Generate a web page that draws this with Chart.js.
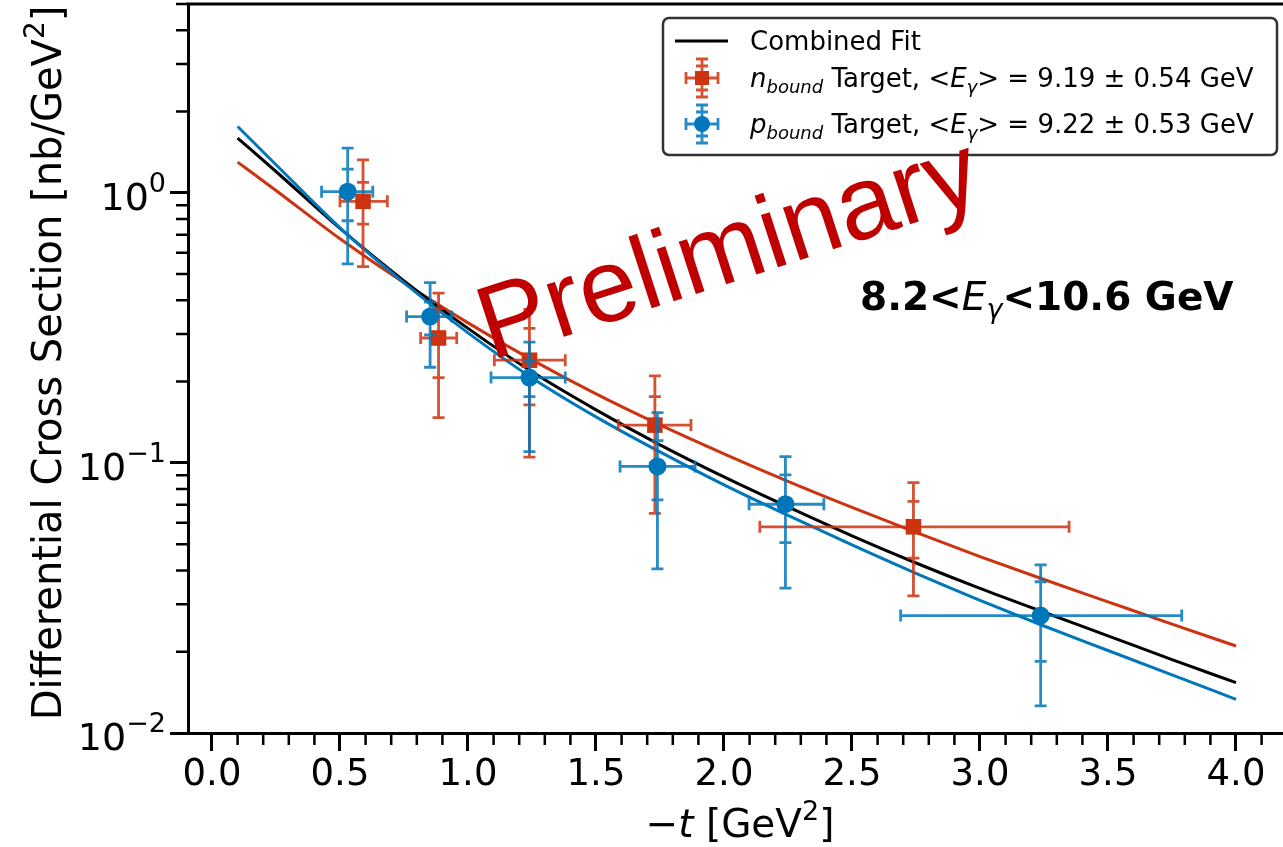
<!DOCTYPE html>
<html>
<head>
<meta charset="utf-8">
<script src="https://cdn.jsdelivr.net/npm/chart.js@4.4.1/dist/chart.umd.min.js"></script>
<style>
    html, body { margin: 0; padding: 0; background: #fff; }
    #wrap { width: 1283px; height: 847px; }
</style>
</head>
<body>
<div id="wrap"><canvas id="chart" width="1283" height="847"></canvas></div>
<script>
// fit curves
const fitT = [0.1, 0.25, 0.5, 0.75, 1.0, 1.25, 1.5, 1.75, 2.0, 2.25, 2.5, 2.75, 3.0, 3.25, 3.5, 3.75, 4.0];
const fitCombined = [1.595, 1.199, 0.738, 0.4721, 0.3148, 0.2174, 0.1572, 0.1166, 0.0887, 0.0687, 0.0537, 0.0426, 0.0343, 0.0280, 0.0229, 0.0187, 0.01536];
const fitNeutron = [1.299, 1.020, 0.6755, 0.4642, 0.3300, 0.2406, 0.1801, 0.1382, 0.1080, 0.0854, 0.0684, 0.0553, 0.0450, 0.0370, 0.0306, 0.0253, 0.0210];
const fitProton = [1.760, 1.270, 0.7420, 0.4642, 0.3030, 0.2064, 0.1481, 0.1098, 0.0829, 0.0639, 0.0497, 0.0390, 0.0310, 0.0249, 0.0202, 0.0164, 0.01333];

// n_bound target points
const nT = [0.59, 0.885, 1.24, 1.73, 2.74];
const nTLo = [0.50, 0.815, 1.103, 1.587, 2.14];
const nTHi = [0.685, 0.956, 1.38, 1.871, 3.348];
const nY = [0.93, 0.29, 0.24, 0.138, 0.058];
const nStatLo = [0.766, 0.207, 0.164, 0.100, 0.0444];
const nStatHi = [1.092, 0.373, 0.315, 0.176, 0.072];
const nTotLo = [0.533, 0.147, 0.105, 0.065, 0.0322];
const nTotHi = [1.325, 0.425, 0.37, 0.21, 0.0845];

// p_bound target points
const pT = [0.53, 0.852, 1.24, 1.74, 2.24, 3.237];
const pTLo = [0.428, 0.76, 1.09, 1.594, 2.098, 2.69];
const pTHi = [0.628, 0.936, 1.38, 1.887, 2.39, 3.788];
const pY = [1.01, 0.348, 0.207, 0.097, 0.0703, 0.0272];
const pStatLo = [0.788, 0.298, 0.176, 0.073, 0.0507, 0.0184];
const pStatHi = [1.224, 0.394, 0.238, 0.121, 0.0903, 0.0363];
const pTotLo = [0.546, 0.226, 0.11, 0.0405, 0.0344, 0.0126];
const pTotHi = [1.464, 0.465, 0.28, 0.1535, 0.1055, 0.0419];

const xTicks = [0, 0.5, 1.0, 1.5, 2.0, 2.5, 3.0, 3.5, 4.0];
const yTicks = [0.01, 0.1, 1];
const yTickExp = ['\u22122', '\u22121', '0'];

const RED = '#CC3311';
const BLUE = '#0077BB';
const FONT = '"DejaVu Sans"';

const errors = {
    n: { t: nT, lo: nTLo, hi: nTHi, y: nY, sLo: nStatLo, sHi: nStatHi, eLo: nTotLo, eHi: nTotHi, color: RED },
    p: { t: pT, lo: pTLo, hi: pTHi, y: pY, sLo: pStatLo, sHi: pStatHi, eLo: pTotLo, eHi: pTotHi, color: BLUE }
};

function run(text, size, style, weight, dy) {
    return { text: text, font: (style || '') + ' ' + (weight || 'normal') + ' ' + size + 'px ' + FONT, dy: dy || 0 };
}

function drawRuns(ctx, x, y, runs, align) {
    let w = 0;
    runs.forEach(r => { ctx.font = r.font; w += ctx.measureText(r.text).width; });
    let cx = align === 'center' ? x - w / 2 : align === 'right' ? x - w : x;
    ctx.textAlign = 'left';
    ctx.textBaseline = 'alphabetic';
    runs.forEach(r => {
        ctx.font = r.font;
        ctx.fillText(r.text, cx, y + r.dy);
        cx += ctx.measureText(r.text).width;
    });
}

function errMark(ctx, px, py, x0, x1, top, bot, sTop, sBot, color) {
    const cap = 6;
    ctx.save();
    ctx.strokeStyle = color;
    ctx.globalAlpha = 0.85;
    ctx.lineWidth = 2.8;
    ctx.beginPath();
    ctx.moveTo(px, top); ctx.lineTo(px, bot);
    ctx.moveTo(x0, py); ctx.lineTo(x1, py);
    [top, bot, sTop, sBot].forEach(v => { ctx.moveTo(px - cap, v); ctx.lineTo(px + cap, v); });
    [x0, x1].forEach(v => { ctx.moveTo(v, py - cap); ctx.lineTo(v, py + cap); });
    ctx.stroke();
    ctx.restore();
}

const decor = {
    id: 'decor',
    beforeDatasetDraw(chart, args) {
        const key = chart.data.datasets[args.index].errKey;
        if (!key) return;
        const e = errors[key];
        const xs = chart.scales.x, ys = chart.scales.y;
        for (let i = 0; i < e.t.length; i++) {
            errMark(chart.ctx,
                xs.getPixelForValue(e.t[i]), ys.getPixelForValue(e.y[i]),
                xs.getPixelForValue(e.lo[i]), xs.getPixelForValue(e.hi[i]),
                ys.getPixelForValue(e.eHi[i]), ys.getPixelForValue(e.eLo[i]),
                ys.getPixelForValue(e.sHi[i]), ys.getPixelForValue(e.sLo[i]), e.color);
        }
    },
    afterDraw(chart) {
        const ctx = chart.ctx;
        const area = chart.chartArea;
        const xs = chart.scales.x, ys = chart.scales.y;
        ctx.save();

        // top spine + minor ticks
        ctx.strokeStyle = '#000';
        ctx.lineWidth = 3;
        ctx.beginPath();
        ctx.moveTo(area.left - 1.5, area.top);
        ctx.lineTo(area.right, area.top);
        ctx.stroke();
        ctx.lineWidth = 2.5;
        ctx.beginPath();
        for (let k = 1; k <= 41; k++) {
            if (k % 5 === 0) continue;
            const px = xs.getPixelForValue(k / 10);
            if (px > area.right) continue;
            ctx.moveTo(px, area.bottom);
            ctx.lineTo(px, area.bottom + 12);
        }
        [0.01, 0.1, 1].forEach(d => {
            for (let m = 2; m <= 9; m++) {
                const v = m * d;
                if (v > ys.max) break;
                const py = ys.getPixelForValue(v);
                ctx.moveTo(area.left, py);
                ctx.lineTo(area.left - 12, py);
            }
        });
        ctx.stroke();

        // y tick labels
        ctx.fillStyle = '#000';
        yTicks.forEach((v, i) => {
            const py = ys.getPixelForValue(v);
            drawRuns(ctx, area.left - 22, py + 17, [run('10', 38), run(yTickExp[i], 27, '', 'normal', -18)], 'right');
        });

        // axis titles
        drawRuns(ctx, 740, 837, [run('\u2212', 39), run('t', 39, 'italic'), run(' [GeV', 39), run('2', 27, '', 'normal', -17), run(']', 39)], 'center');
        ctx.save();
        ctx.translate(61, 363);
        ctx.rotate(-Math.PI / 2);
        drawRuns(ctx, 0, 0, [run('Differential Cross Section [nb/GeV', 40), run('2', 28, '', 'normal', -17), run(']', 40)], 'center');
        ctx.restore();

        // energy range note
        drawRuns(ctx, 860, 310, [run('8.2<', 39, '', 'bold'), run('E', 39, 'italic'), run('\u03b3', 27, 'italic', 'normal', 8), run('<10.6 GeV', 39, '', 'bold')], 'left');

        // legend
        ctx.beginPath();
        ctx.roundRect(663, 18, 614, 137, 6);
        ctx.fillStyle = '#fff';
        ctx.fill();
        ctx.strokeStyle = '#333';
        ctx.lineWidth = 2.5;
        ctx.stroke();

        ctx.strokeStyle = '#000';
        ctx.lineWidth = 3;
        ctx.beginPath();
        ctx.moveTo(675, 41);
        ctx.lineTo(728, 41);
        ctx.stroke();
        ctx.fillStyle = '#000';
        drawRuns(ctx, 750, 50, [run('Combined Fit', 26)], 'left');

        errMark(ctx, 702, 78, 686, 718, 59, 97, 66, 90, RED);
        ctx.fillStyle = RED;
        ctx.fillRect(695, 71, 14, 14);
        ctx.fillStyle = '#000';
        drawRuns(ctx, 750, 87, [run('n', 26, 'italic'), run('bound', 18, 'italic', 'normal', 6), run(' Target, <', 26),
            run('E', 26, 'italic'), run('\u03b3', 18, 'italic', 'normal', 6), run('> = 9.19 \u00b1 0.54 GeV', 26)], 'left');

        errMark(ctx, 702, 124, 686, 718, 105, 143, 112, 136, BLUE);
        ctx.fillStyle = BLUE;
        ctx.beginPath();
        ctx.arc(702, 124, 8, 0, Math.PI * 2);
        ctx.fill();
        ctx.fillStyle = '#000';
        drawRuns(ctx, 750, 133, [run('p', 26, 'italic'), run('bound', 18, 'italic', 'normal', 6), run(' Target, <', 26),
            run('E', 26, 'italic'), run('\u03b3', 18, 'italic', 'normal', 6), run('> = 9.22 \u00b1 0.53 GeV', 26)], 'left');

        // watermark
        ctx.translate(727, 245);
        ctx.rotate(-18 * Math.PI / 180);
        ctx.font = '104px "Liberation Sans"';
        ctx.fillStyle = '#C00000';
        ctx.textAlign = 'center';
        ctx.textBaseline = 'alphabetic';
        ctx.fillText('Preliminary', 0, 37);
        ctx.restore();
    }
};

const toXY = (xsArr, ysArr) => xsArr.map((x, i) => ({ x: x, y: ysArr[i] }));

const lineSet = (label, data, color, order) => ({
    label: label,
    data: toXY(fitT, data),
    borderColor: color,
    borderWidth: 3,
    pointRadius: 0,
    fill: false,
    cubicInterpolationMode: 'monotone',
    order: order
});

new Chart(document.getElementById('chart'), {
    type: 'line',
    data: {
        datasets: [
            lineSet('Combined Fit', fitCombined, '#000', 11),
            lineSet('n fit', fitNeutron, RED, 12),
            lineSet('p fit', fitProton, BLUE, 10),
            {
                label: 'n_bound Target',
                data: toXY(nT, nY),
                errKey: 'n',
                showLine: false,
                pointStyle: 'rect',
                pointRadius: 11,
                pointBackgroundColor: RED,
                pointBorderWidth: 0,
                order: 2
            },
            {
                label: 'p_bound Target',
                data: toXY(pT, pY),
                errKey: 'p',
                showLine: false,
                pointStyle: 'circle',
                pointRadius: 9,
                pointBackgroundColor: BLUE,
                pointBorderWidth: 0,
                order: 1
            }
        ]
    },
    options: {
        responsive: false,
        animation: false,
        devicePixelRatio: 1,
        layout: { autoPadding: false, padding: { top: 4, left: 0, right: 0, bottom: 0 } },
        plugins: {
            legend: { display: false },
            tooltip: { enabled: false }
        },
        scales: {
            x: {
                type: 'linear',
                min: -0.09375,
                max: 4.1836,
                afterBuildTicks: s => { s.ticks = xTicks.map(v => ({ value: v })); },
                afterFit: s => { s.height = 114; s.paddingLeft = 0; s.paddingRight = 0; },
                ticks: {
                    callback: v => v.toFixed(1),
                    font: { family: 'DejaVu Sans', size: 37 },
                    color: '#000',
                    padding: 2,
                    maxRotation: 0,
                    autoSkip: false
                },
                grid: { drawOnChartArea: false, tickLength: 18, tickWidth: 3, tickColor: '#000' },
                border: { display: true, color: '#000', width: 3 }
            },
            y: {
                type: 'logarithmic',
                min: 0.01,
                max: 5,
                afterBuildTicks: s => { s.ticks = yTicks.map(v => ({ value: v })); },
                afterFit: s => { s.width = 188; },
                ticks: { display: false },
                grid: { drawOnChartArea: false, tickLength: 18, tickWidth: 3, tickColor: '#000' },
                border: { display: true, color: '#000', width: 3 }
            }
        }
    },
    plugins: [decor]
});
</script>
</body>
</html>
